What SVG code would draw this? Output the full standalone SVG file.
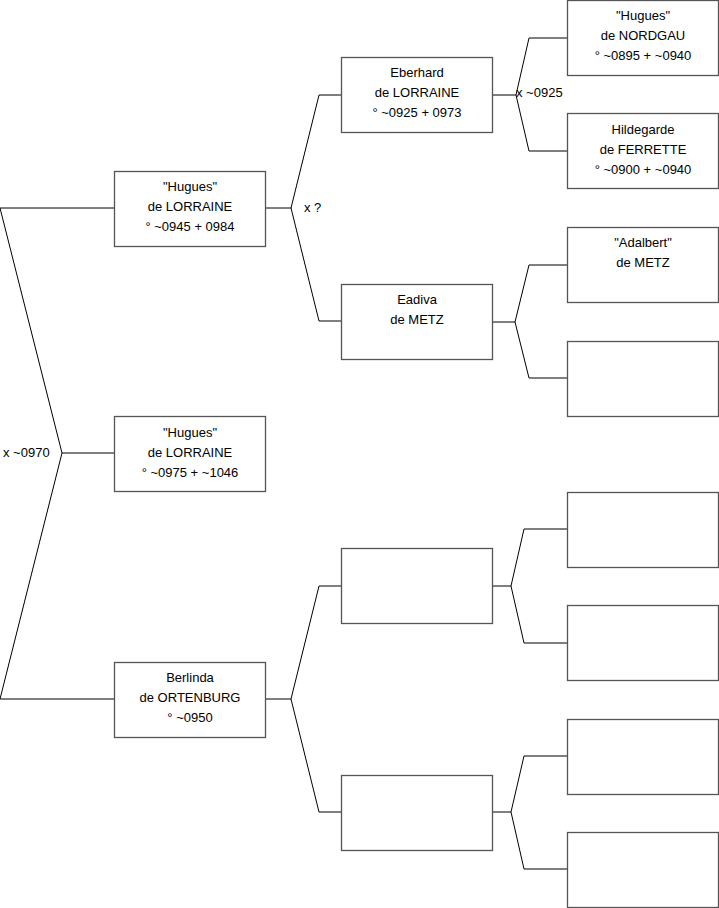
<svg xmlns="http://www.w3.org/2000/svg" width="719" height="908" viewBox="0 0 719 908">
<style>
.box{fill:#fff;stroke:#555;stroke-width:1.3}
.t{font-family:"Liberation Sans",Arial,sans-serif;font-size:13px;fill:#000;text-anchor:middle}
.l{font-family:"Liberation Sans",Arial,sans-serif;font-size:13px;fill:#000}
.c{fill:none;stroke:#000;stroke-width:1}
</style>
<rect width="719" height="908" fill="#fff"/>
<g id="connectors">
<polyline class="c" points="114,208 0,208 62,453 0,699 114,699"/>
<line class="c" x1="62" y1="453" x2="114" y2="453"/>
<polyline class="c" points="265,208 291,208"/>
<polyline class="c" points="341,95 319,95 291,208 319,321 341,321"/>
<polyline class="c" points="265,699 291,699"/>
<polyline class="c" points="341,586 319,586 291,699 319,812 341,812"/>
<polyline class="c" points="492,95 516,95"/>
<polyline class="c" points="567,38 529,38 516,95 529,151 567,151"/>
<polyline class="c" points="492,322 515,322"/>
<polyline class="c" points="567,265 529,265 515,322 529,378 567,378"/>
<polyline class="c" points="492,586 511,586"/>
<polyline class="c" points="567,529 524,529 511,586 524,643 567,643"/>
<polyline class="c" points="492,812 511,812"/>
<polyline class="c" points="567,756 524,756 511,812 524,869 567,869"/>
<text class="l" x="3" y="457">x ~0970</text>
<text class="l" x="304" y="212">x ?</text>
<text class="l" x="516" y="97">x ~0925</text>
</g>
<g id="n1">
<rect class="box" x="114.5" y="171.5" width="151" height="75"/>
<text class="t" x="190" y="191">"Hugues"</text>
<text class="t" x="190" y="211">de LORRAINE</text>
<text class="t" x="190" y="231">° ~0945 + 0984</text>
</g>
<g id="n0">
<rect class="box" x="114.5" y="416.5" width="151" height="75"/>
<text class="t" x="190" y="437">"Hugues"</text>
<text class="t" x="190" y="457">de LORRAINE</text>
<text class="t" x="190" y="477">° ~0975 + ~1046</text>
</g>
<g id="n2">
<rect class="box" x="114.5" y="662.5" width="151" height="75"/>
<text class="t" x="190" y="682">Berlinda</text>
<text class="t" x="190" y="702">de ORTENBURG</text>
<text class="t" x="190" y="722">° ~0950</text>
</g>
<g id="n3">
<rect class="box" x="341.5" y="57.5" width="151" height="75"/>
<text class="t" x="417" y="77">Eberhard</text>
<text class="t" x="417" y="97">de LORRAINE</text>
<text class="t" x="417" y="117">° ~0925 + 0973</text>
</g>
<g id="n4">
<rect class="box" x="341.5" y="284.5" width="151" height="75"/>
<text class="t" x="417" y="304">Eadiva</text>
<text class="t" x="417" y="324">de METZ</text>
</g>
<g id="n5"><rect class="box" x="341.5" y="548.5" width="151" height="75"/></g>
<g id="n6"><rect class="box" x="341.5" y="775.5" width="151" height="75"/></g>
<g id="n7">
<rect class="box" x="567.5" y="0.5" width="151" height="75"/>
<text class="t" x="643" y="20">"Hugues"</text>
<text class="t" x="643" y="40">de NORDGAU</text>
<text class="t" x="643" y="60">° ~0895 + ~0940</text>
</g>
<g id="n8">
<rect class="box" x="567.5" y="113.5" width="151" height="75"/>
<text class="t" x="643" y="134">Hildegarde</text>
<text class="t" x="643" y="154">de FERRETTE</text>
<text class="t" x="643" y="174">° ~0900 + ~0940</text>
</g>
<g id="n9">
<rect class="box" x="567.5" y="227.5" width="151" height="75"/>
<text class="t" x="643" y="247">"Adalbert"</text>
<text class="t" x="643" y="267">de METZ</text>
</g>
<g id="n10"><rect class="box" x="567.5" y="341.5" width="151" height="75"/></g>
<g id="n11"><rect class="box" x="567.5" y="492.5" width="151" height="75"/></g>
<g id="n12"><rect class="box" x="567.5" y="605.5" width="151" height="75"/></g>
<g id="n13"><rect class="box" x="567.5" y="719.5" width="151" height="75"/></g>
<g id="n14"><rect class="box" x="567.5" y="832.5" width="151" height="75"/></g>
</svg>
